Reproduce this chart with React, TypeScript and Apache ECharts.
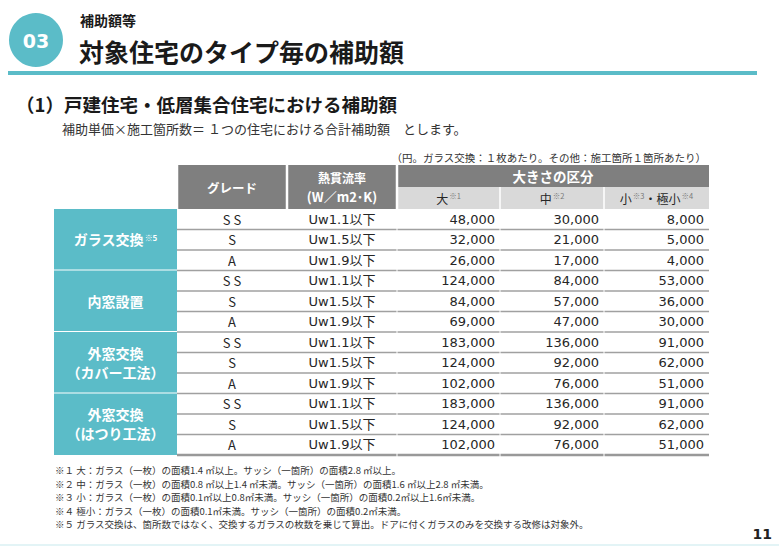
import React, { useEffect, useRef } from "react";
import * as echarts from "echarts";

// ---- data ----
const categories = ["ガラス交換", "内窓設置", "外窓交換\n（カバー工法）", "外窓交換\n（はつり工法）"];
const categoryNotes = ["※5", "", "", ""];
const grades = ["S S", "S", "A"];
const uValues = ["Uw1.1以下", "Uw1.5以下", "Uw1.9以下"];
const headerGrade = "グレード";
const headerU = ["熱貫流率", "(W／m2･K)"];
const headerSize = "大きさの区分";
const sizeLabels = ["{t|大}{s|※1}", "{t|中}{s|※2}", "{t|小}{s|※3}{t|・極小}{s|※4}"];
const largeValues = [48000, 32000, 26000, 124000, 84000, 69000, 183000, 124000, 102000, 183000, 124000, 102000];
const mediumValues = [30000, 21000, 17000, 84000, 57000, 47000, 136000, 92000, 76000, 136000, 92000, 76000];
const smallValues = [8000, 5000, 4000, 53000, 36000, 30000, 91000, 62000, 51000, 91000, 62000, 51000];
const footnotes = [
  "※１ 大：ガラス（一枚）の面積1.4 ㎡以上。サッシ（一箇所）の面積2.8 ㎡以上。",
  "※２ 中：ガラス（一枚）の面積0.8 ㎡以上1.4 ㎡未満。サッシ（一箇所）の面積1.6 ㎡以上2.8 ㎡未満。",
  "※３ 小：ガラス（一枚）の面積0.1㎡以上0.8㎡未満。サッシ（一箇所）の面積0.2㎡以上1.6㎡未満。",
  "※４ 極小：ガラス（一枚）の面積0.1㎡未満。サッシ（一箇所）の面積0.2㎡未満。",
  "※５ ガラス交換は、箇所数ではなく、交換するガラスの枚数を乗じて算出。ドアに付くガラスのみを交換する改修は対象外。",
];

// ---- layout / style ----
const TEAL = "#5bbcc8";
const DARK_HEAD = "#7f7f7f";
const LIGHT_HEAD = "#d9d9d9";
const LINE = "#a0a0a0";
const TEXT = "#262626";
const JP = "'Noto Sans CJK JP', sans-serif";
const NUM = "'DejaVu Sans', 'Noto Sans CJK JP', sans-serif";
const colEdges = [0, 123, 233, 343, 446, 550, 655];
const headH1 = 22;
const headH2 = 22;
const rowH = 20.5;
const headH = headH1 + headH2;

const fmt = (v: number) => v.toLocaleString("en-US");

function box(api: any, x0: number, y0: number, x1: number, y1: number) {
  const p0 = api.coord([x0, y0]);
  const p1 = api.coord([x1, y1]);
  return { x: p0[0], y: p0[1], width: p1[0] - p0[0], height: p1[1] - p0[1] };
}

export default function App() {
  const ref = useRef<HTMLDivElement>(null);
  useEffect(() => {
    if (!ref.current) return;
    const chart = echarts.init(ref.current, null, { renderer: "svg" });

    const headerRender = (params: any, api: any) => {
      const children: any[] = [];
      const gap = 1.25;
      const g = box(api, colEdges[1], 0, colEdges[2], headH);
      children.push({ type: "rect", shape: { x: g.x + gap, y: g.y, width: g.width - 2 * gap, height: g.height }, style: { fill: DARK_HEAD } });
      children.push({ type: "text", x: g.x + g.width / 2, y: g.y + g.height / 2, style: { text: headerGrade, fill: "#fff", fontSize: 12.5, fontWeight: "bold", fontFamily: JP, align: "center", verticalAlign: "middle" } });
      const u = box(api, colEdges[2], 0, colEdges[3], headH);
      children.push({ type: "rect", shape: { x: u.x + gap, y: u.y, width: u.width - 2 * gap, height: u.height }, style: { fill: DARK_HEAD } });
      children.push({ type: "text", x: u.x + u.width / 2, y: u.y + 12, style: { text: headerU[0], fill: "#fff", fontSize: 12, fontWeight: "bold", fontFamily: JP, align: "center", verticalAlign: "middle" } });
      children.push({ type: "text", x: u.x + u.width / 2, y: u.y + 31, style: { text: headerU[1], fill: "#fff", fontSize: 13, fontWeight: "bold", fontFamily: JP, align: "center", verticalAlign: "middle" } });
      const s = box(api, colEdges[3], 0, colEdges[6], headH1);
      children.push({ type: "rect", shape: { x: s.x + gap, y: s.y, width: s.width - gap, height: s.height }, style: { fill: DARK_HEAD } });
      children.push({ type: "text", x: s.x + s.width / 2, y: s.y + s.height / 2, style: { text: headerSize, fill: "#fff", fontSize: 13.5, fontWeight: "bold", fontFamily: JP, align: "center", verticalAlign: "middle" } });
      for (let i = 0; i < 3; i++) {
        const c = box(api, colEdges[3 + i], headH1, colEdges[4 + i], headH);
        const left = i === 0 ? gap : 0.75;
        const right = i === 2 ? 0 : 0.75;
        children.push({ type: "rect", shape: { x: c.x + left, y: c.y, width: c.width - left - right, height: c.height }, style: { fill: LIGHT_HEAD } });
        children.push({
          type: "text",
          x: c.x + c.width / 2,
          y: c.y + c.height / 2,
          style: {
            text: sizeLabels[i],
            align: "center",
            verticalAlign: "middle",
            rich: {
              t: { fontSize: 12, fill: TEXT, fontFamily: JP },
              s: { fontSize: 7.5, fill: "#7a7a7a", fontFamily: JP, verticalAlign: "top", padding: [0, 0, 4, 1] },
            },
          },
        });
      }
      return { type: "group", children };
    };

    const categoryRender = (params: any, api: any) => {
      const i = api.value(1);
      const y0 = headH + i * 3 * rowH;
      const b = box(api, colEdges[0], y0, colEdges[1], y0 + 3 * rowH);
      const inset = i === categories.length - 1 ? 0 : 1;
      const note = categoryNotes[i];
      const label = note ? `{m|${categories[i]}}{n|${note}}` : `{m|${categories[i]}}`;
      return {
        type: "group",
        children: [
          { type: "rect", shape: { x: b.x, y: b.y, width: b.width, height: b.height - inset }, style: { fill: TEAL } },
          {
            type: "text",
            x: b.x + b.width / 2,
            y: b.y + b.height / 2 - 0.5,
            style: {
              text: label,
              align: "center",
              verticalAlign: "middle",
              rich: {
                m: { fontSize: 14, fontWeight: "bold", fill: "#fff", fontFamily: JP, lineHeight: 19, align: "center" },
                n: { fontSize: 8, fontWeight: "bold", fill: "#fff", fontFamily: JP, padding: [0, 0, 4, 1] },
              },
            },
          },
        ],
      };
    };

    const rowRender = (params: any, api: any) => {
      const r = api.value(1);
      const y0 = headH + r * rowH;
      const y1 = y0 + rowH;
      const children: any[] = [];
      const midY = api.coord([0, (y0 + y1) / 2])[1];
      const cx = (a: number, b: number) => (api.coord([colEdges[a], 0])[0] + api.coord([colEdges[b], 0])[0]) / 2;
      const rightX = (k: number) => api.coord([colEdges[k], 0])[0] - 5;
      const base = { fill: TEXT, fontSize: 13, fontFamily: NUM, verticalAlign: "middle" };
      children.push({ type: "text", x: cx(1, 2), y: midY, style: { ...base, text: grades[r % 3], fontFamily: JP, align: "center" } });
      children.push({ type: "text", x: cx(2, 3), y: midY, style: { ...base, text: uValues[r % 3], align: "center" } });
      const vals = [largeValues[r], mediumValues[r], smallValues[r]];
      vals.forEach((v, k) => {
        children.push({ type: "text", x: rightX(4 + k), y: midY, style: { ...base, text: fmt(v), align: "right" } });
      });
      const last = r === largeValues.length - 1;
      const ly = api.coord([0, y1])[1];
      const segs = [
        [1, 3],
        [3, 4],
        [4, 5],
        [5, 6],
      ];
      segs.forEach(([a, b], k) => {
        const xa = api.coord([colEdges[a], 0])[0] + (k === 0 ? 0 : 0.5);
        const xb = api.coord([colEdges[b], 0])[0] - (k === segs.length - 1 ? 0 : 0.5);
        children.push({ type: "line", shape: { x1: xa, y1: ly, x2: xb, y2: ly }, style: { stroke: last ? "#999" : LINE, lineWidth: last ? 2.5 : 1.5 } });
      });
      return { type: "group", children };
    };

    const option: any = {
      animation: false,
      backgroundColor: "#ffffff",
      grid: { left: 54, top: 165, width: 655, height: 290, show: false },
      xAxis: { type: "value", min: 0, max: 655, show: false },
      yAxis: { type: "value", min: 0, max: 290, inverse: true, show: false },
      series: [
        { type: "custom", renderItem: headerRender, data: [[0, 0]], clip: false, silent: true },
        { type: "custom", renderItem: categoryRender, data: categories.map((_, i) => [0, i]), clip: false, silent: true },
        { type: "custom", renderItem: rowRender, data: largeValues.map((_, i) => [0, i]), clip: false, silent: true },
      ],
      graphic: [
        { type: "circle", shape: { cx: 36, cy: 40, r: 27 }, style: { fill: TEAL } },
        { type: "text", x: 36, y: 41, style: { text: "03", fill: "#fff", fontSize: 19, fontWeight: "bold", fontFamily: "'DejaVu Sans', sans-serif", align: "center", verticalAlign: "middle" } },
        { type: "text", x: 80, y: 20, style: { text: "補助額等", fill: "#1a1a1a", fontSize: 14, fontWeight: "bold", fontFamily: JP, verticalAlign: "middle" } },
        { type: "text", x: 79, y: 51, style: { text: "対象住宅のタイプ毎の補助額", fill: "#1a1a1a", fontSize: 25, fontWeight: "bold", fontFamily: JP, verticalAlign: "middle" } },
        { type: "rect", shape: { x: 8, y: 71, width: 749, height: 4 }, style: { fill: TEAL } },
        { type: "text", x: 16, y: 104, style: { text: "（1）戸建住宅・低層集合住宅における補助額", fill: "#1a1a1a", fontSize: 18.5, fontWeight: "bold", fontFamily: JP, verticalAlign: "middle" } },
        { type: "text", x: 62, y: 128, style: { text: "補助単価×施工箇所数＝ １つの住宅における合計補助額　とします。", fill: "#333", fontSize: 13, fontFamily: JP, verticalAlign: "middle" } },
        { type: "text", x: 706, y: 157, style: { text: "（円。ガラス交換：１枚あたり。その他：施工箇所１箇所あたり）", fill: "#333", fontSize: 10.5, fontFamily: JP, align: "right", verticalAlign: "middle" } },
        ...footnotes.map((t, i) => ({ type: "text", x: 55, y: 470 + i * 13.5, style: { text: t, fill: "#333", fontSize: 9.5, fontFamily: JP, verticalAlign: "middle" } })),
        { type: "text", x: 772, y: 534, style: { text: "11", fill: "#222", fontSize: 14, fontWeight: "bold", fontFamily: "'DejaVu Sans', sans-serif", align: "right", verticalAlign: "middle" } },
        { type: "rect", shape: { x: 0, y: 544, width: 779, height: 2 }, style: { fill: "#e3f4f6" } },
      ],
    };
    chart.setOption(option);
    return () => chart.dispose();
  }, []);
  return <div ref={ref} style={{ position: "fixed", left: 0, top: 0, width: 779, height: 546 }} />;
}
